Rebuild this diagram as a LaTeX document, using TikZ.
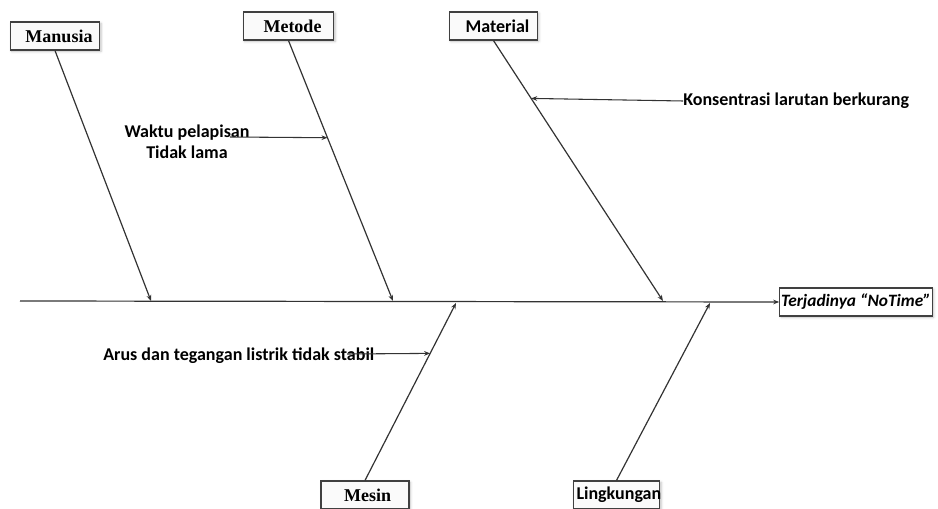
\documentclass[tikz,border=0pt]{standalone}
\usepackage{fontspec}
\setmainfont{Liberation Serif}
\newfontfamily\causefont{Carlito}
\usetikzlibrary{positioning, arrows.meta, shadows.blur, calc}

\begin{document}
\begin{tikzpicture}[
  x=0.75pt, y=-0.75pt,
  >={Stealth[length=4.5pt, width=3.5pt]},
  catbox/.style={rectangle, draw=black!75, line width=0.9pt, fill=gray!4, minimum width=66pt, minimum height=21pt, inner sep=1pt, font=\fontsize{13.5}{15}\selectfont\bfseries, blur shadow={shadow blur steps=4, shadow opacity=25, shadow xshift=1pt, shadow yshift=-1pt}},
  effectbox/.style={rectangle, draw=black!75, line width=0.9pt, fill=white, minimum width=114pt, minimum height=21pt, inner sep=1pt, font=\causefont\fontsize{13}{15}\selectfont\bfseries\itshape, blur shadow={shadow blur steps=4, shadow opacity=25, shadow xshift=1pt, shadow yshift=-1pt}},
  causetext/.style={font=\causefont\fontsize{13.5}{16}\selectfont\bfseries, inner sep=0pt, align=center},
  bonearrow/.style={->, line width=0.9pt, draw=black!80},
  causearrow/.style={->, line width=0.8pt, draw=black!80}
]
\useasboundingbox (0,0) rectangle (938,509);

% Effect and spine
\node[effectbox] (effect) at (856,302) {Terjadinya “NoTime”};
\coordinate (tail) at (20,301);
\draw[bonearrow] (tail) -- (effect.west);

% Spine points
\coordinate (s1) at (151,301);
\coordinate (s2) at (393,301);
\coordinate (s3) at (663,301);
\coordinate (s4) at (456,303);
\coordinate (s5) at (710,303);

% Categories
\node[catbox, minimum width=67pt] (manusia) at (55,36) {\hspace*{6pt}Manusia};
\node[catbox, minimum width=68pt] (metode) at (288.5,26) {\hspace*{6pt}Metode};
\node[catbox] (material) at (493.5,26) {\hspace*{6pt}\causefont Material};
\node[catbox] (mesin) at (365,495) {\hspace*{4pt}Mesin};
\node[catbox, minimum width=65pt, text width=60pt, align=left] (lingkungan) at (616.5,495) {\causefont Lingkungan};

% Bones
\draw[bonearrow] (manusia.south) -- (s1);
\draw[bonearrow] (metode.south) -- (s2);
\draw[bonearrow] (material.south) -- (s3);
\draw[bonearrow] (mesin.north) -- (s4);
\draw[bonearrow] (lingkungan.north) -- (s5);

% Causes
\node[causetext] (waktu) at (187,142) {Waktu pelapisan\\Tidak lama};
\coordinate (waktustart) at (230,137);
\coordinate (met1) at ($(metode.south)!0.373!(s2)$);
\draw[causearrow] (waktustart) -- (met1);

\node[causetext, anchor=west] (konsentrasi) at (683,101) {Konsentrasi larutan berkurang};
\coordinate (mat1) at ($(material.south)!0.222!(s3)$);
\draw[causearrow] (konsentrasi.west) -- (mat1);

\node[causetext, anchor=west] (arus) at (103,356) {Arus dan tegangan listrik tidak stabil};
\coordinate (arusstart) at (347,354);
\coordinate (mes1) at ($(mesin.north)!0.716!(s4)$);
\draw[causearrow] (arusstart) -- (mes1);

\end{tikzpicture}
\end{document}
